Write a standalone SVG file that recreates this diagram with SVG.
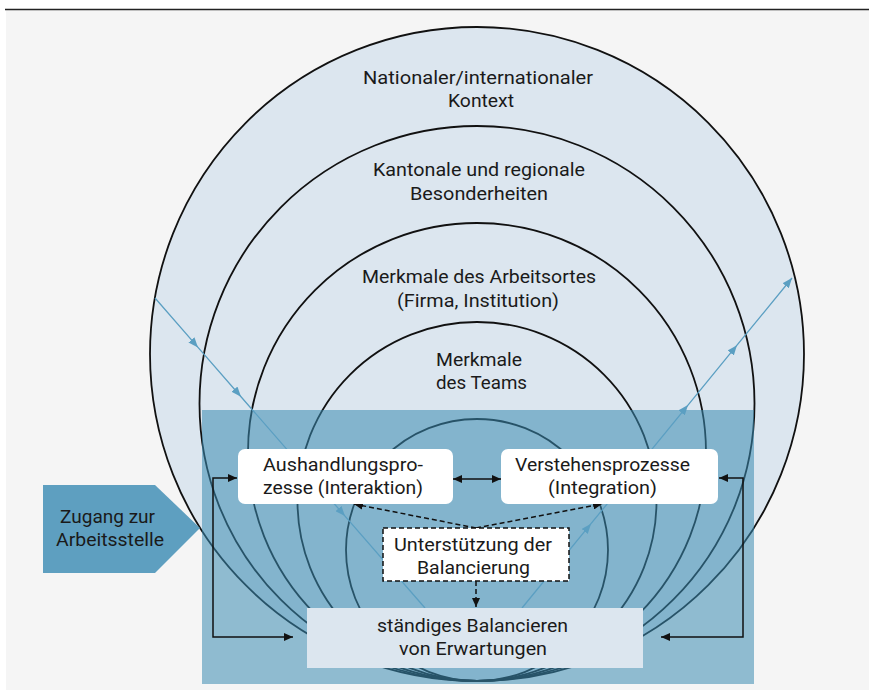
<svg xmlns="http://www.w3.org/2000/svg" width="869" height="690" viewBox="0 0 869 690">
<style>
.ring{fill:none;stroke:#111;stroke-width:1.8}
.t{font-family:Roboto,"Liberation Sans",sans-serif;font-size:19px;fill:#1a1a1a}
.blue{fill:none;stroke:#5b9fc2;stroke-width:1.3}
.conn{fill:none;stroke:#111;stroke-width:1.5}
.dash{fill:none;stroke:#111;stroke-width:1.5;stroke-dasharray:5 3}
</style>
<defs>
<marker id="ab" viewBox="0 0 9 8" markerWidth="9" markerHeight="8" refX="9" refY="4" orient="auto-start-reverse" markerUnits="userSpaceOnUse"><path d="M0,0 L9,4 L0,8 z" fill="#111"/></marker>
<marker id="abl" viewBox="0 0 10 8" markerWidth="10" markerHeight="8" refX="10" refY="4" orient="auto" markerUnits="userSpaceOnUse"><path d="M0,0 L10,4 L0,8 z" fill="#5b9fc2"/></marker>
</defs>
<rect x="0" y="0" width="869" height="690" fill="#ffffff"/>
<rect x="6" y="10" width="863" height="680" fill="#f5f5f5"/>
<line x1="5" y1="9.5" x2="869" y2="9.5" stroke="#222" stroke-width="1.5"/>

<g id="ring-national"><circle cx="477" cy="354" r="327" fill="#dce6ef" stroke="#111" stroke-width="1.8"/></g>
<g id="ring-kanton"><circle class="ring" cx="477" cy="403.5" r="277.5"/></g>
<g id="ring-arbeitsort"><circle class="ring" cx="477" cy="452" r="229"/></g>
<g id="ring-team"><circle class="ring" cx="477" cy="501.5" r="179.5"/></g>
<g id="ring-inner"><circle class="ring" cx="477" cy="550" r="131"/></g>

<g id="overlay"><rect x="202" y="410" width="552" height="274" fill="#3a8ab0" fill-opacity="0.55"/></g>

<g id="ring-labels">
<text class="t"><tspan x="363" y="84" textLength="230" lengthAdjust="spacingAndGlyphs">Nationaler/internationaler</tspan><tspan x="448" y="107" textLength="66" lengthAdjust="spacingAndGlyphs">Kontext</tspan></text>
<text class="t"><tspan x="373" y="176" textLength="212" lengthAdjust="spacingAndGlyphs">Kantonale und regionale</tspan><tspan x="410" y="200" textLength="138" lengthAdjust="spacingAndGlyphs">Besonderheiten</tspan></text>
<text class="t"><tspan x="362" y="283" textLength="234" lengthAdjust="spacingAndGlyphs">Merkmale des Arbeitsortes</tspan><tspan x="397" y="307" textLength="162" lengthAdjust="spacingAndGlyphs">(Firma, Institution)</tspan></text>
<text class="t"><tspan x="436" y="366" textLength="86" lengthAdjust="spacingAndGlyphs">Merkmale</tspan><tspan x="436" y="389" textLength="91" lengthAdjust="spacingAndGlyphs">des Teams</tspan></text>
</g>

<g id="connectors">
<polyline class="blue" points="155,298 198,347.4 241,396.7 345,516.1 425,608" marker-mid="url(#abl)"/>
<polyline class="blue" points="522,608 591,523.7 688,405.1 737,345.2 792,278" marker-mid="url(#abl)" marker-end="url(#abl)"/>
<line class="conn" x1="453" y1="479" x2="501" y2="479" marker-start="url(#ab)" marker-end="url(#ab)"/>
<path class="conn" d="M293,637 H213 V478 H237" marker-start="url(#ab)" marker-end="url(#ab)"/>
<path class="conn" d="M661,637 H743 V478 H719" marker-start="url(#ab)" marker-end="url(#ab)"/>
<path class="dash" d="M476,528 L354,504" marker-end="url(#ab)"/>
<path class="dash" d="M476,528 L602,504" marker-end="url(#ab)"/>
<path class="dash" d="M476,581 L476,607" marker-end="url(#ab)"/>
</g>

<g id="zugang">
<polygon points="43,485 155,485 200,528 155,573 43,573" fill="#5e9fc0"/>
<text class="t"><tspan x="60" y="523" textLength="95" lengthAdjust="spacingAndGlyphs">Zugang zur</tspan><tspan x="56" y="546" textLength="108" lengthAdjust="spacingAndGlyphs">Arbeitsstelle</tspan></text>
</g>

<g id="aushandlung">
<rect x="238" y="449" width="215" height="55" rx="7" fill="#ffffff"/>
<text class="t"><tspan x="263" y="471" textLength="160" lengthAdjust="spacingAndGlyphs">Aushandlungspro-</tspan><tspan x="263" y="493.5" textLength="160" lengthAdjust="spacingAndGlyphs">zesse (Interaktion)</tspan></text>
</g>

<g id="verstehen">
<rect x="501" y="449" width="217" height="55" rx="7" fill="#ffffff"/>
<text class="t"><tspan x="515" y="471" textLength="175" lengthAdjust="spacingAndGlyphs">Verstehensprozesse</tspan><tspan x="548" y="493.5" textLength="109" lengthAdjust="spacingAndGlyphs">(Integration)</tspan></text>
</g>

<g id="unterstuetzung">
<rect x="383" y="528" width="186" height="53" fill="#ffffff" stroke="#111" stroke-width="1.5" stroke-dasharray="5 3"/>
<text class="t"><tspan x="394" y="551" textLength="158" lengthAdjust="spacingAndGlyphs">Unterstützung der</tspan><tspan x="417" y="573.5" textLength="113" lengthAdjust="spacingAndGlyphs">Balancierung</tspan></text>
</g>

<g id="balancieren">
<rect x="307" y="608" width="336" height="60" fill="#dce6ef"/>
<text class="t"><tspan x="377" y="632" textLength="191" lengthAdjust="spacingAndGlyphs">ständiges Balancieren</tspan><tspan x="399" y="654.5" textLength="148" lengthAdjust="spacingAndGlyphs">von Erwartungen</tspan></text>
</g>
</svg>
